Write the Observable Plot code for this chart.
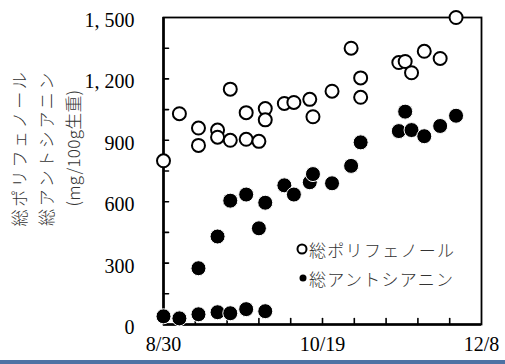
<!DOCTYPE html>
<html>
<head>
<meta charset="utf-8">
<script src="https://cdn.jsdelivr.net/npm/d3@7"></script>
<script src="https://cdn.jsdelivr.net/npm/@observablehq/plot@0.6"></script>
<style>
  html, body { margin: 0; padding: 0; background: #fff; }
  #bar { width: 505px; height: 4px; background: #4e72a4; }
</style>
</head>
<body>
<div id="chart"></div>
<div id="bar"></div>
<script>
// ---- data ----
const year = 2021;
const xDomain = ["8/30", "12/8"];
const xTickLabels = ["8/30", "10/19", "12/8"];
const yTickValues = [0, 300, 600, 900, 1200, 1500];

const polyDates = ["8/30","9/4","9/10","9/10","9/16","9/16","9/20","9/20","9/25","9/25","9/29","10/1","10/1","10/7","10/10","10/15","10/16","10/22","10/28","10/31","10/31","11/12","11/14","11/16","11/20","11/25","11/30"];
const polyValues = [800,1030,960,875,950,915,1150,900,1035,905,895,1055,1000,1080,1085,1100,1015,1140,1350,1205,1110,1280,1285,1230,1335,1300,1500];

const anthoDates = ["8/30","9/4","9/10","9/10","9/16","9/16","9/20","9/20","9/25","9/25","9/29","10/1","10/1","10/7","10/10","10/15","10/16","10/22","10/28","10/31","11/12","11/14","11/16","11/20","11/25","11/30"];
const anthoValues = [40,30,50,275,60,430,55,605,75,635,470,65,595,680,635,695,735,690,775,890,945,1040,950,920,970,1020];

const yLabelLines = ["総ポリフェノール", "総アントシアニン", "(mg/100g生重)"];
const legendLabels = ["総ポリフェノール", "総アントシアニン"];

// ---- build ----
const parse = s => d3.utcParse("%Y/%m/%d")(`${year}/${s}`);
const poly = polyDates.map((d, i) => ({date: parse(d), value: polyValues[i]}));
const antho = anthoDates.map((d, i) => ({date: parse(d), value: anthoValues[i]}));
const x0 = parse(xDomain[0]), x1 = parse(xDomain[1]);
const xMinor = d3.range(10, 100, 10).map(k => d3.utcDay.offset(x0, k));
const yMinor = d3.range(150, 1500, 150);
const tickShape = {draw(context, l) { context.moveTo(0, 0); context.lineTo(0, -l); }};

const plot = Plot.plot({
  width: 505,
  height: 360,
  marginLeft: 163,
  marginRight: 24,
  marginTop: 17,
  marginBottom: 36,
  style: {fontFamily: "'Liberation Serif', serif", color: "#000", background: "#fff"},
  x: {type: "utc", domain: [x0, x1]},
  y: {domain: [0, 1500]},
  marks: [
    Plot.frame({stroke: "#000", strokeWidth: 1.8}),
    Plot.ruleX([x0], {stroke: "#000", strokeWidth: 2.6}),
    Plot.ruleY([0], {stroke: "#000", strokeWidth: 2.6}),
    Plot.vector(xMinor, {x: d => d, frameAnchor: "bottom", length: 6, rotate: 0, anchor: "start", shape: tickShape, stroke: "#000", strokeWidth: 1.6}),
    Plot.vector(yMinor, {y: d => d, frameAnchor: "left", length: 5, rotate: 90, anchor: "start", shape: tickShape, stroke: "#000", strokeWidth: 1.6}),
    Plot.axisX({ticks: xTickLabels.map(parse), tickSize: 0, tickPadding: 12, tickFormat: d3.utcFormat("%-m/%-d"), fontSize: 20, label: null}),
    Plot.axisY({ticks: yTickValues, tickSize: 0, tickPadding: 29, dy: 3, tickFormat: d => d3.format(",")(d).replace(",", ", "), fontSize: 20, label: null}),
    Plot.dot(antho, {x: "date", y: "value", r: 7.5, fill: "#000", stroke: "#fff", strokeWidth: 1}),
    Plot.dot(poly, {x: "date", y: "value", r: 6.5, fill: "#fff", stroke: "#000", strokeWidth: 2})
  ]
});

const svg = d3.select(plot);
// y axis title (three vertical lines)
const yLab = [{x: 18, ls: 2.6}, {x: 45, ls: 2.6}, {x: 72, ls: 0.3}];
yLabelLines.forEach((t, i) => {
  svg.append("text")
    .attr("transform", `translate(${yLab[i].x},148) rotate(-90)`)
    .attr("text-anchor", "middle")
    .attr("dominant-baseline", "central")
    .attr("font-family", "'Noto Sans CJK JP', sans-serif")
    .attr("font-size", 17)
    .attr("font-weight", 300)
    .attr("letter-spacing", yLab[i].ls)
    .attr("fill", "#333")
    .text(t);
});
// legend
svg.append("circle").attr("cx", 302).attr("cy", 249).attr("r", 4.5).attr("fill", "#fff").attr("stroke", "#000").attr("stroke-width", 2);
svg.append("circle").attr("cx", 303).attr("cy", 278).attr("r", 3.5).attr("fill", "#000");
legendLabels.forEach((t, i) => {
  svg.append("text")
    .attr("x", 309).attr("y", 249 + i * 29)
    .attr("text-anchor", "start")
    .attr("dominant-baseline", "central")
    .attr("font-family", "'Noto Sans CJK JP', sans-serif")
    .attr("font-size", 17)
    .attr("font-weight", 300)
    .attr("letter-spacing", 1.3)
    .attr("fill", "#333")
    .text(t);
});

document.getElementById("chart").append(plot);
</script>
</body>
</html>
